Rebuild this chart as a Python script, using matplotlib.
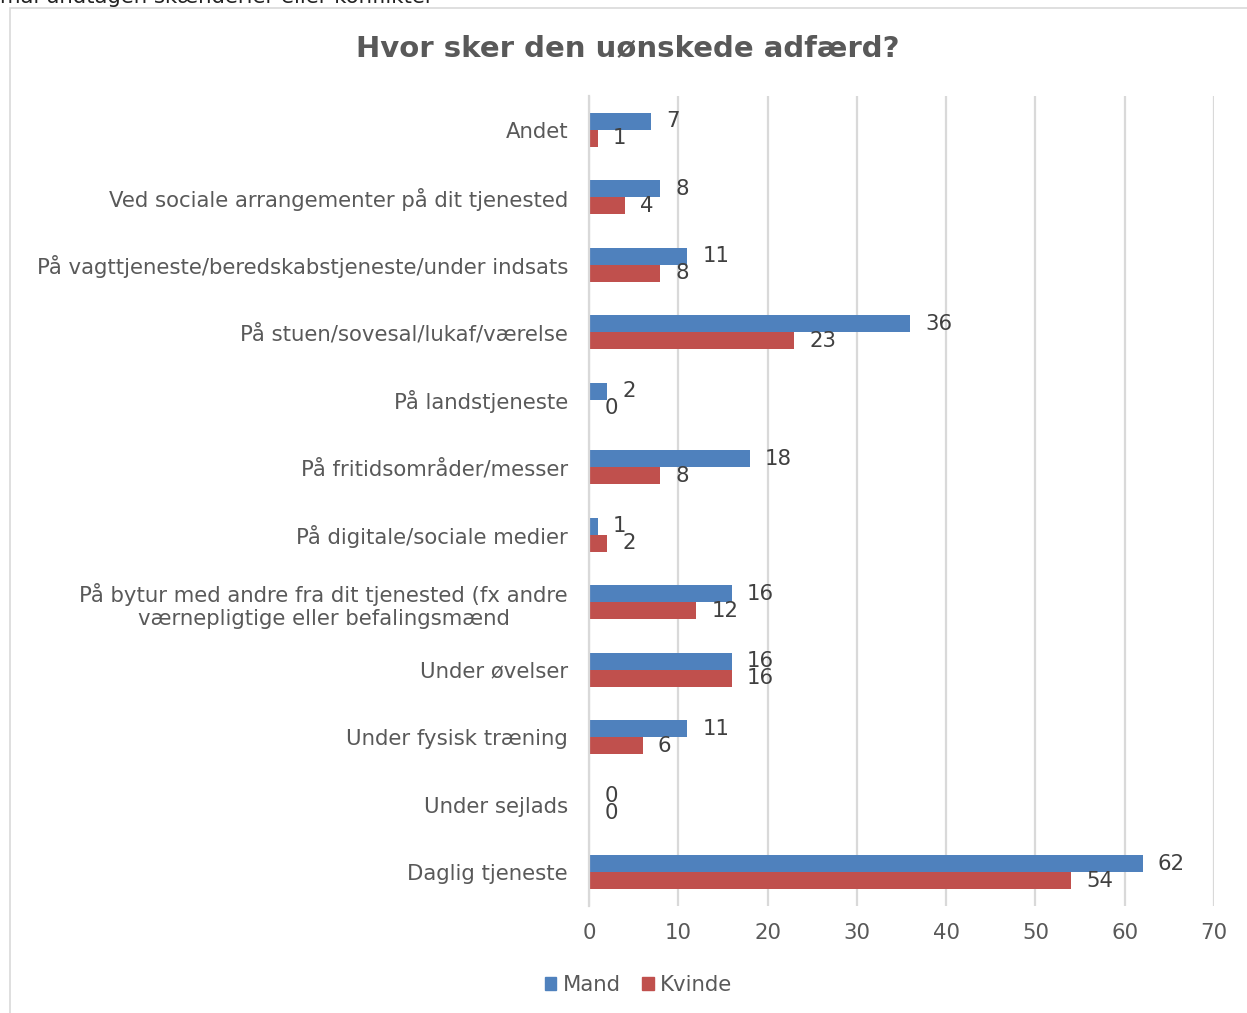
import matplotlib.pyplot as plt
import matplotlib.patches as mpatches
import numpy as np

categories = [
    "Andet",
    "Ved sociale arrangementer på dit tjenested",
    "På vagttjeneste/beredskabstjeneste/under indsats",
    "På stuen/sovesal/lukaf/værelse",
    "På landstjeneste",
    "På fritidsområder/messer",
    "På digitale/sociale medier",
    "På bytur med andre fra dit tjenested (fx andre\nværnepligtige eller befalingsmænd",
    "Under øvelser",
    "Under fysisk træning",
    "Under sejlads",
    "Daglig tjeneste",
]
mand = [7, 8, 11, 36, 2, 18, 1, 16, 16, 11, 0, 62]
kvinde = [1, 4, 8, 23, 0, 8, 2, 12, 16, 6, 0, 54]
x_ticks = [0, 10, 20, 30, 40, 50, 60, 70]

BLUE = "#4f81bd"
RED = "#c0504d"
GREY_TXT = "#595959"
VAL_TXT = "#404040"
GRID = "#d9d9d9"
FS = 15.3

fig = plt.figure(figsize=(12.47, 10.13), dpi=100)
ax = fig.add_axes([0.4723, 0.1056, 0.5012, 0.7996])

y = np.arange(len(categories))
h = 0.255
bm = ax.barh(y - h / 2, mand, height=h, color=BLUE, label="Mand", zorder=3)
bk = ax.barh(y + h / 2, kvinde, height=h, color=RED, label="Kvinde", zorder=3)

for bars, vals in [(bm, mand), (bk, kvinde)]:
    for b, v in zip(bars, vals):
        ax.annotate(str(v), (b.get_width(), b.get_y() + b.get_height() / 2),
                    xytext=(11, 0), textcoords="offset points",
                    ha="left", va="center", fontsize=FS, color=VAL_TXT)

ax.set_xlim(0, 70)
ax.set_ylim(len(categories) - 0.5, -0.5)
ax.set_xticks(x_ticks)
ax.set_yticks(y)
ax.set_yticklabels(categories, multialignment="center")
ax.tick_params(axis="both", length=0, labelsize=FS, colors=GREY_TXT)
ax.tick_params(axis="y", pad=15)
ax.tick_params(axis="x", pad=12)
ax.grid(axis="x", color=GRID, linewidth=1.6, zorder=0)
for s in ["top", "right", "bottom"]:
    ax.spines[s].set_visible(False)
ax.spines["left"].set_color(GRID)
ax.spines["left"].set_linewidth(1.6)
ax.spines["left"].set_zorder(4)

fig.text(0.5035, 0.953, "Hvor sker den uønskede adfærd?", ha="center", va="center",
         fontsize=21, fontweight="bold", color=GREY_TXT)

handles = [mpatches.Patch(color=BLUE, label="Mand"), mpatches.Patch(color=RED, label="Kvinde")]
fig.legend(handles=handles, loc="center", bbox_to_anchor=(0.512, 0.028), ncol=2,
           frameon=False, fontsize=FS, handlelength=0.55, handleheight=0.55,
           handletextpad=0.3, columnspacing=1.0, labelcolor=GREY_TXT)

# chart frame and clipped caption above it
fig.patches.append(mpatches.Rectangle((10 / 1247, -0.01), 1.0, 1 - 8 / 1013 + 0.01,
                                      transform=fig.transFigure, fill=False,
                                      edgecolor=GRID, linewidth=1.2))
fig.text(0.0, 1.004, "mål undtagen skænderier eller konflikter", ha="left", va="center",
         fontsize=FS, color="#222222")

fig.savefig("out.png", dpi=100)
